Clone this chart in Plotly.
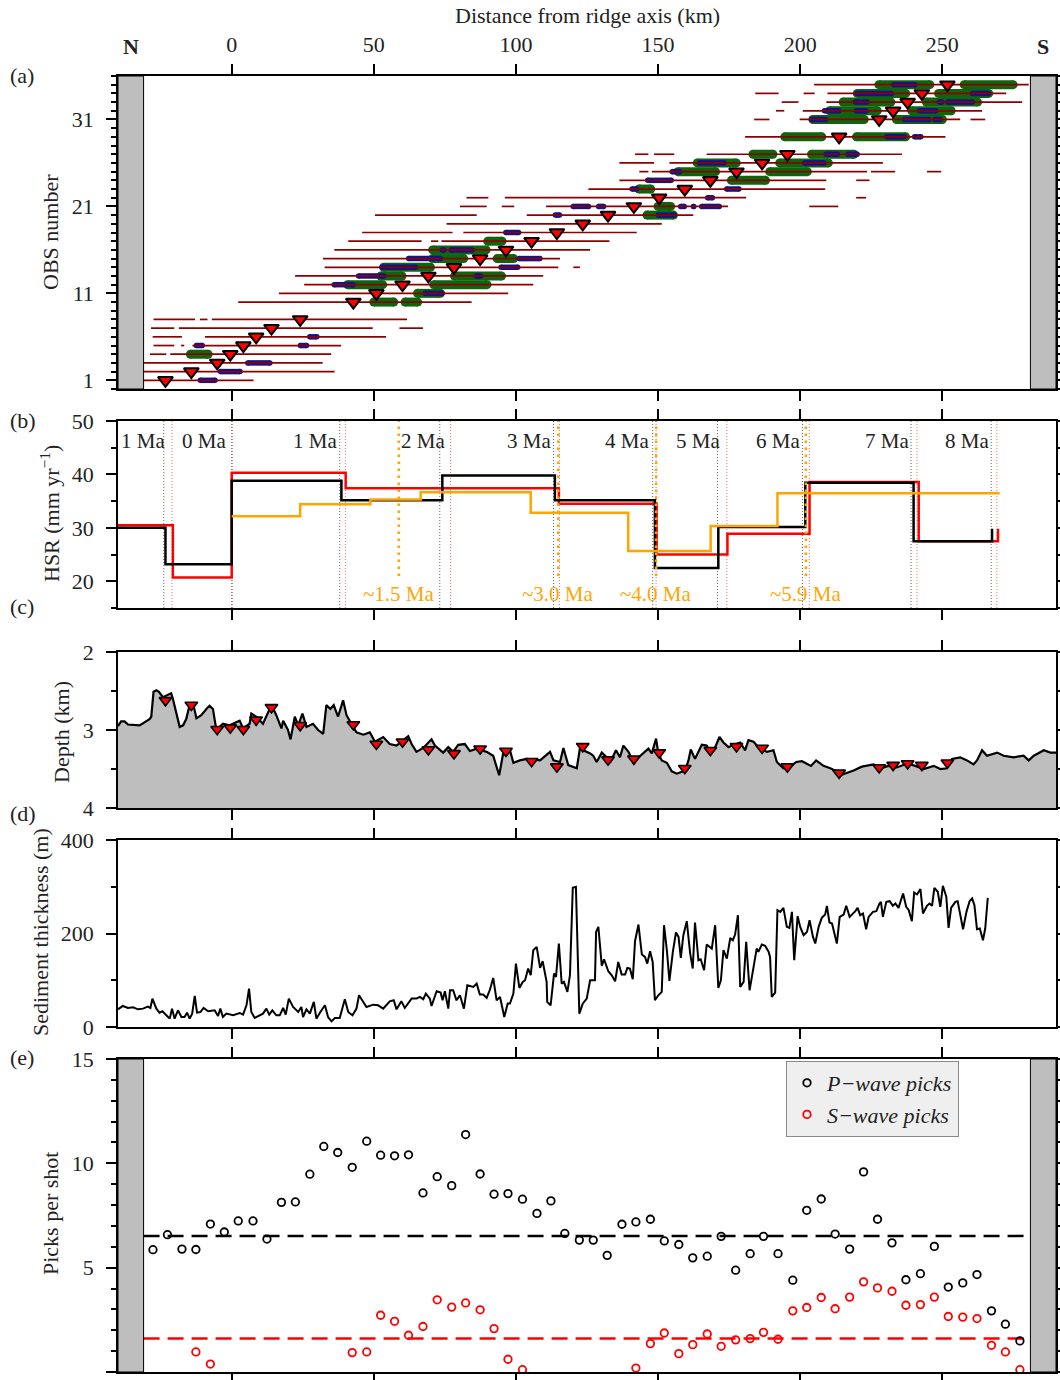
import plotly.graph_objects as go

# ---------------------------------------------------------------- data
TICK_KM = [0, 50, 100, 150, 200, 250]

# OBS positions (panel a / c)
OBS_NUM = [1, 2, 3, 4, 5, 6, 7, 8, 10, 11, 12, 13, 14, 15, 16, 17, 18, 19, 20, 21,
           22, 23, 24, 25, 26, 27, 29, 31, 32, 33, 34, 35]
OBS_KM = [-23.3, -14.2, -5.1, -0.5, 4.1, 8.6, 14.0, 24.1, 42.8, 50.9, 60.1, 69.2, 78.2,
          87.4, 96.5, 105.5, 114.4, 123.5, 132.4, 141.5, 150.4, 159.4, 168.4, 177.6,
          186.6, 195.5, 213.7, 227.8, 232.7, 237.8, 242.8, 251.8]
OBS_DEPTH = [2.62, 2.68, 2.99, 2.97, 2.99, 2.87, 2.71, 2.94, 2.93, 3.18, 3.15, 3.25, 3.30,
             3.24, 3.27, 3.40, 3.47, 3.21, 3.38, 3.37, 3.29, 3.49, 3.26, 3.21, 3.23, 3.47,
             3.55, 3.48, 3.45, 3.43, 3.45, 3.42]

# panel a: offset ranges (thin dark red)
RED_OBS = [1, 2, 3, 4, 4, 5, 5, 5, 6, 6, 7, 7, 7, 8, 8, 8, 10, 11, 12, 13, 14, 14, 15, 16,
           17, 17, 17, 18, 18, 19, 20, 20, 21, 21, 21, 21, 22, 22, 22, 23, 24, 24, 25, 25,
           25, 25, 26, 26, 27, 27, 27, 29, 31, 31, 31, 32, 32, 33, 33, 34, 34, 34, 35]
RED_START = [-31, -31, -31, -28.8, -21.6, -27.5, -17.8, -13.8, -27.8, -9.4, -28.4, -18.6,
             59.0, -27.5, -11.2, -7.0, 2.3, 16.6, 25.5, 22.3, 32.7, 120.2, 32.1, 36.1, 41.0,
             70.1, 73.8, 45.9, 81.5, 75.6, 50.4, 103.8, 80.3, 95.0, 110.6, 203.2, 82.6, 96.1,
             219.7, 125.5, 136.4, 219.7, 143.4, 147.8, 224.9, 244.6, 136.4, 154.0, 141.9,
             148.6, 167.1, 180.6, 183.8, 199.8, 259.9, 191.5, 200.9, 193.5, 209.2, 184.2,
             201.2, 209.6, 204.9]
RED_END = [7.7, 36.2, 32.0, -23.0, 35.0, -20.2, -16.7, 38.5, -17.5, 54.3, -20.2, 49.6, 67.3,
           -12.9, -8.5, 61.7, 84.4, 97.3, 106.1, 109.6, 114.9, 122.5, 115.5, 126.1, 66.8,
           72.7, 132.9, 77.7, 142.5, 151.3, 86.2, 162.4, 89.7, 99.4, 174.6, 213.4, 90.3,
           181.0, 223.2, 208.8, 209.2, 224.4, 146.6, 223.5, 233.4, 249.6, 148.6, 229.1,
           146.6, 155.7, 235.8, 251.1, 189.2, 256.3, 265.1, 194.4, 264.0, 199.4, 278.1,
           192.4, 205.1, 272.5, 280.4]

# panel a: blue bars
BLUE_OBS = [1, 2, 3, 5, 5, 6, 11, 12, 13, 13, 14, 14, 15, 15, 16, 16, 18, 20, 20, 21, 21,
            21, 21, 21, 22, 23, 23, 24, 25, 26, 26, 27, 27, 29, 29, 31, 31, 31, 32, 32, 32,
            33, 33, 33, 34, 34, 35]
BLUE_START = [-12.0, -4.9, 4.7, -13.4, 23.2, 26.5, 67.1, 35.1, 43.7, 85.2, 51.9, 93.8, 61.3,
              100.2, 73.2, 76.2, 95.5, 112.9, 149.2, 119.2, 128.1, 157.0, 161.5, 164.4,
              166.5, 139.9, 173.2, 145.4, 154.0, 163.6, 200.6, 208.2, 215.9, 229.6, 239.3,
              203.0, 235.8, 246.4, 207.6, 218.8, 241.0, 218.5, 248.0, 251.0, 219.0, 259.7,
              232.0]
BLUE_END = [-4.9, 3.9, 14.4, -9.4, 27.3, 30.9, 75.0, 43.7, 54.5, 88.5, 65.6, 101.6, 74.4,
            109.4, 75.6, 85.6, 101.9, 116.3, 156.7, 126.5, 131.8, 160.2, 163.5, 172.5, 170.1,
            143.4, 179.4, 155.6, 158.5, 174.2, 209.4, 214.1, 221.0, 237.5, 243.4, 209.9,
            246.2, 250.2, 214.6, 224.1, 248.7, 224.5, 250.8, 261.5, 233.0, 267.2, 241.3]

# panel a: green bars
GREEN_OBS = [4, 10, 10, 11, 12, 12, 13, 13, 14, 15, 15, 16, 17, 20, 21, 23, 24, 25, 25, 26,
             26, 27, 27, 29, 29, 31, 31, 32, 32, 33, 33, 34, 34, 35, 35]
GREEN_START = [-16.1, 48.4, 59.4, 63.8, 39.2, 69.5, 50.9, 76.8, 51.9, 69.1, 91.8, 69.1, 88.5,
               144.5, 148.4, 141.7, 174.2, 155.4, 187.7, 162.2, 191.2, 181.8, 202.4, 193.0,
               218.2, 202.9, 232.3, 208.8, 237.7, 213.5, 242.8, 218.5, 247.1, 226.1, 256.1]
GREEN_END = [-6.7, 58.6, 67.0, 75.0, 54.7, 91.4, 61.5, 96.5, 71.5, 83.2, 100.8, 91.1, 96.7,
             157.0, 156.0, 149.0, 189.4, 171.8, 204.1, 179.1, 211.5, 192.0, 220.5, 209.2,
             238.7, 224.1, 251.6, 228.7, 254.7, 233.5, 264.0, 238.7, 267.9, 247.2, 276.5]

# panel b: half-spreading rates (step boundaries and values)
HSR_BLACK_X = [-40, -23.3, 0, 38.6, 74.1, 113.7, 148.9, 171.2, 201.8, 239.9, 267.5]
HSR_BLACK_Y = [30.0, 23.2, 38.8, 35.15, 39.8, 35.15, 22.5, 30.15, 38.45, 27.5, 29.85]
HSR_RED_X = [-40, -20.7, 0, 40.1, 115.1, 149.5, 174.4, 203.3, 241.7, 269.6]
HSR_RED_Y = [30.5, 20.7, 40.3, 37.4, 34.5, 25.0, 28.9, 38.6, 27.5, 29.85]
HSR_ORANGE_X = [0, 24.1, 48.8, 66.5, 105.2, 139.5, 168.5, 192.0, 270.2]
HSR_ORANGE_Y = [32.15, 34.4, 35.3, 36.65, 32.85, 25.65, 30.35, 36.5, 36.5]
AGE_BLACK_X = [-23.9, 0.0, 38.0, 73.2, 113.2, 148.1, 170.9, 200.8, 239.0, 267.2]
AGE_RED_X = [-21.0, 0.3, 40.0, 77.0, 115.3, 149.3, 174.2, 203.2, 241.1, 269.2]
AGE_LABELS = ["1 Ma", "0 Ma", "1 Ma", "2 Ma", "3 Ma", "4 Ma", "5 Ma", "6 Ma", "7 Ma", "8 Ma"]
AGE_LABEL_X = [-22.8, -1.3, 37.8, 75.6, 113.0, 147.5, 172.6, 200.6, 238.9, 267.0]
ORANGE_AGE_X = [58.8, 114.9, 149.3, 202.0]
ORANGE_AGE_LABELS = ["~1.5 Ma", "~3.0 Ma", "~4.0 Ma", "~5.9 Ma"]

# panel c: bathymetry
BATHY_KM = [-40.0, -38.9, -37.7, -36.5, -32.4, -31.2, -28.9, -28.3, -27.5, -26.5,
            -25.6, -24.2, -21.3, -20.7, -19.5, -18.3, -17.1, -16.0, -14.8, -13.6,
            -12.4, -10.7, -8.9, -7.8, -6.6, -5.4, -3.1, -0.7, 1.6, 2.8,
            4.0, 6.3, 6.9, 8.7, 11.0, 12.2, 14.0, 15.7, 17.5, 18.1,
            19.8, 20.7, 22.2, 23.4, 24.9, 26.3, 28.6, 30.4, 32.2, 33.3,
            34.7, 35.9, 37.4, 39.2, 40.4, 42.1, 43.9, 46.3, 48.6, 50.4,
            53.3, 55.6, 58.0, 59.7, 62.1, 63.3, 65.0, 67.4, 70.3, 71.5,
            74.4, 76.2, 77.9, 79.7, 82.0, 83.8, 86.2, 89.7, 92.0, 94.1,
            95.5, 97.9, 99.1, 101.4, 103.8, 108.5, 112.0, 113.2, 115.5, 116.7,
            118.4, 121.4, 122.5, 126.1,
            127.2, 128.4, 130.2, 131.9, 133.1, 135.2, 136.6, 137.8, 139.6, 141.3,
            143.7, 146.6, 147.8, 149.3, 150.1, 151.3, 153.1, 154.8, 156.6, 158.3,
            159.5, 160.7, 161.5, 163.0, 164.2, 165.4, 167.1, 168.5, 170.1, 171.6,
            173.0, 174.8, 176.5, 178.9, 180.6, 181.8, 183.6, 185.3, 188.3, 190.6,
            191.8, 194.1, 196.5, 198.6, 200.6, 202.4, 203.8, 205.6, 208.2, 210.6,
            212.3, 214.1, 216.4, 218.8, 221.7, 223.5, 225.8, 228.2, 231.1, 234.0,
            237.6, 240.5, 243.4, 247.0, 249.3, 251.6, 253.4, 256.3, 258.7, 261.0,
            262.2, 264.0, 265.7, 269.3, 271.6, 275.1, 278.6, 280.4, 282.2, 285.7,
            288.0, 290.0]
BATHY_DEPTH = [2.95, 2.89, 2.89, 2.93, 2.94, 2.91, 2.86, 2.83, 2.51, 2.49,
               2.51, 2.58, 2.53, 2.60, 2.77, 2.96, 2.94, 2.86, 2.68, 2.66,
               2.85, 2.81, 2.73, 2.69, 2.73, 3.00, 2.92, 2.94, 2.90, 2.88,
               2.98, 2.92, 2.79, 2.83, 2.92, 2.83, 2.68, 2.81, 2.98, 2.88,
               3.00, 3.12, 2.83, 2.94, 2.79, 2.96, 2.92, 3.00, 3.05, 2.68,
               2.73, 2.68, 2.83, 2.62, 2.81, 2.92, 3.03, 3.06, 3.03, 3.15,
               3.09, 3.18, 3.20, 3.15, 3.08, 3.18, 3.28, 3.23, 3.12, 3.20,
               3.29, 3.22, 3.28, 3.19, 3.18, 3.27, 3.24, 3.28, 3.33, 3.58,
               3.30, 3.26, 3.42, 3.39, 3.37, 3.39, 3.28, 3.39, 3.41, 3.23,
               3.45, 3.49, 3.24, 3.30,
               3.33, 3.41, 3.29, 3.35, 3.42, 3.26, 3.35, 3.20, 3.28, 3.41,
               3.33, 3.24, 3.30, 3.11, 3.30, 3.39, 3.42, 3.53, 3.56, 3.54,
               3.52, 3.39, 3.25, 3.37, 3.28, 3.19, 3.20, 3.29, 3.22, 3.09,
               3.16, 3.22, 3.19, 3.16, 3.26, 3.13, 3.15, 3.22, 3.28, 3.26,
               3.41, 3.49, 3.47, 3.41, 3.40, 3.43, 3.46, 3.39, 3.46, 3.49,
               3.52, 3.58, 3.55, 3.52, 3.47, 3.46, 3.44, 3.49, 3.46, 3.48,
               3.43, 3.46, 3.50, 3.46, 3.50, 3.49, 3.37, 3.35, 3.39, 3.44,
               3.39, 3.26, 3.33, 3.29, 3.33, 3.35, 3.33, 3.39, 3.33, 3.26,
               3.29, 3.29]

# panel d: sediment thickness
SED_KM = [-40.0, -38.3, -36.5, -34.7, -33.0, -31.2, -29.5, -28.6, -27.9, -26.5,
          -25.4, -24.4, -23.0, -21.8, -21.0, -20.1, -18.9, -17.7, -16.6, -15.7,
          -14.8, -13.9, -13.0, -12.2, -11.0, -9.9, -8.3, -6.0, -4.8, -4.0,
          -3.1, -1.9, 0.5, 2.8, 4.0, 5.2, 6.1, 6.9, 8.1, 11.0,
          12.2, 13.2, 14.3, 15.7, 16.9, 18.1, 19.0, 20.1, 21.6, 23.4,
          24.5, 25.1, 26.3, 27.5, 28.9, 29.8, 31.2, 32.8, 33.9, 35.1,
          36.3, 38.0, 39.8, 41.0, 42.5, 43.9, 44.8, 46.3, 47.4, 49.8,
          51.5, 53.3, 55.6, 57.0, 58.0, 59.7, 60.9, 63.3, 65.0, 66.2,
          67.4, 68.3, 69.7, 70.3, 72.1, 73.5, 74.2, 75.0, 76.2, 76.8,
          77.9, 79.1, 80.3, 81.7, 82.9, 85.0, 86.2, 87.3, 88.5, 89.7,
          90.9, 92.0, 93.2, 94.4, 95.9, 97.1, 97.9, 99.1, 100.0, 101.2,
          102.4, 103.2, 104.3, 105.2, 106.1, 107.3, 108.5, 109.4, 110.8, 111.0,
          112.2, 113.4, 114.1, 115.1, 116.1, 116.9, 118.1, 119.0, 120.0, 121.1,
          122.3, 123.5, 124.9, 126.1,
          126.6, 127.8, 128.2, 129.0, 130.2, 131.0, 132.5, 133.7, 134.9, 136.0,
          137.2, 138.4, 139.2, 140.1, 141.1, 141.9, 143.1, 144.3, 145.4, 146.2,
          147.2, 148.1, 148.9, 150.1, 151.3, 152.1, 153.1, 154.0, 155.2, 156.3,
          157.2, 158.0, 158.9, 160.1, 161.3, 162.2, 163.0, 164.2, 165.0, 166.2,
          167.1, 168.9, 170.1, 171.2, 172.1, 173.0, 174.2, 175.4, 176.3, 177.1,
          178.1, 178.9, 180.1, 181.0, 182.2, 183.6, 184.7, 185.3, 186.5, 187.7,
          188.9, 189.4, 190.0, 191.2, 192.0, 193.0, 194.1, 195.3, 196.2, 197.1,
          197.9, 199.1, 200.0, 201.2, 202.4, 203.3, 204.5, 205.3, 206.5, 207.6,
          208.8, 209.4, 210.3, 211.2, 212.9, 213.9, 215.3, 216.2, 217.4, 219.4,
          220.2, 221.1, 222.1, 223.2, 224.1, 225.6, 226.8, 227.9, 228.4, 229.1,
          230.3, 231.5, 232.6, 233.5, 234.6, 236.2, 237.3, 238.2, 239.3, 240.1,
          241.1, 242.3, 243.2, 244.6, 245.5, 246.4, 247.2, 248.4, 249.3, 250.2,
          251.4, 252.2, 253.1, 254.6, 255.4, 257.3, 258.5, 259.6, 260.5, 261.3,
          262.2, 263.2, 264.3, 265.1, 266.0]
SED_THICK = [37.8, 45.0, 40.7, 42.1, 37.8, 39.3, 43.6, 40.7, 60.7, 39.3,
             30.7, 33.6, 25.0, 17.9, 39.3, 17.9, 35.7, 21.4, 21.4, 30.7,
             17.9, 28.6, 66.4, 30.7, 32.1, 40.7, 33.6, 35.7, 23.6, 39.3,
             21.4, 28.6, 25.0, 30.0, 26.4, 46.4, 82.1, 32.1, 19.3, 28.6,
             39.3, 26.4, 35.7, 25.0, 25.0, 40.7, 26.4, 60.7, 42.8, 32.1,
             42.8, 21.4, 37.8, 28.6, 53.6, 17.9, 32.1, 46.4, 21.4, 12.1,
             19.3, 19.3, 59.3, 32.1, 25.0, 39.3, 67.8, 53.6, 42.8, 47.8,
             46.4, 39.3, 55.0, 57.1, 37.8, 55.0, 40.7, 60.7, 60.7, 64.3,
             59.3, 71.4, 60.7, 45.0, 76.4, 73.5, 57.1, 76.4, 39.3, 78.5,
             78.5, 57.1, 67.8, 39.3, 89.3, 85.7, 92.8, 69.3, 69.3, 62.1,
             80.7, 105.0, 57.1, 64.3, 21.4, 50.0, 50.0, 71.4, 135.7, 83.5,
             96.4, 100.0, 125.0, 110.7, 164.2, 171.4, 126.4, 140.7, 96.4, 53.6,
             46.4, 114.2, 107.1, 178.5, 92.8, 96.4, 75.0, 110.7, 297.7, 299.9,
             28.6, 50.0, 60.7, 100.0,
             100.0, 100.0, 203.5, 214.2, 130.7, 144.9, 119.2, 110.7, 97.8, 139.2,
             112.1, 112.1, 126.4, 125.0, 102.1, 183.5, 219.2, 154.9, 149.9, 135.7,
             162.1, 139.2, 57.1, 67.8, 75.0, 217.8, 164.2, 98.5, 160.7, 202.1,
             192.8, 147.8, 196.4, 226.3, 157.1, 125.0, 223.5, 142.8, 144.9, 121.4,
             176.4, 167.8, 217.8, 83.5, 100.0, 164.2, 146.4, 190.6, 185.6, 197.8,
             239.2, 85.7, 96.4, 182.1, 78.5, 132.1, 167.8, 160.7, 176.4, 173.5,
             160.7, 149.9, 64.3, 73.5, 249.9, 246.3, 254.9, 214.2, 212.1, 246.3,
             142.8, 237.0, 214.2, 196.4, 203.5, 228.5, 192.8, 178.5, 214.2, 233.5,
             240.6, 259.2, 223.5, 221.3, 178.5, 235.6, 240.6, 259.2, 235.6, 247.8,
             254.9, 239.2, 242.8, 209.2, 235.6, 246.3, 247.8, 264.2, 267.8, 235.6,
             267.8, 269.2, 259.2, 264.2, 254.9, 285.6, 257.0, 249.9, 226.3, 287.7,
             283.5, 294.9, 242.8, 259.2, 264.2, 259.2, 297.7, 289.2, 257.0, 302.0,
             278.5, 212.1, 254.9, 267.8, 269.2, 209.2, 246.3, 269.2, 274.9, 260.6,
             209.2, 210.6, 185.6, 210.6, 276.3]

# panel e: picks per shot
P_KM = [-27.7, -22.6, -17.5, -12.6, -7.5, -2.6, 2.3, 7.5, 12.4, 17.5,
        22.4, 27.5, 32.4, 37.3, 42.4, 47.5, 52.4, 57.3, 62.2, 67.3,
        72.3, 77.4, 82.3, 87.4, 92.3, 97.2, 102.3, 107.4, 112.3, 117.2,
        122.3, 127.2, 132.1, 137.3, 142.2, 147.3, 152.2, 157.3, 162.2, 167.3,
        172.2, 177.3, 182.4, 187.1, 192.2, 197.4, 202.3, 207.4, 212.3, 217.4,
        222.3, 227.2, 232.3, 237.2, 242.3, 247.2, 252.1, 257.2, 262.2, 267.3,
        272.2, 277.3]
P_PICKS = [5.86, 6.58, 5.89, 5.87, 7.09, 6.71, 7.24, 7.24, 6.37, 8.13,
           8.15, 9.48, 10.81, 10.52, 9.81, 11.06, 10.39, 10.36, 10.41, 8.58,
           9.36, 8.93, 11.38, 9.49, 8.52, 8.55, 8.28, 7.60, 8.20, 6.64,
           6.32, 6.32, 5.59, 7.08, 7.19, 7.32, 6.28, 6.11, 5.47, 5.55,
           6.50, 4.88, 5.67, 6.50, 5.67, 4.40, 7.75, 8.29, 6.61, 5.89,
           9.59, 7.32, 6.19, 4.42, 4.71, 6.02, 4.07, 4.27, 4.67, 2.93,
           2.29, 1.49]
S_KM = [-12.6, -7.5, 42.4, 47.5, 52.4, 57.3, 62.2, 67.3, 72.3, 77.4, 82.3, 87.4, 92.3,
        97.2, 102.3, 142.2, 147.3, 152.2, 157.3, 162.2, 167.3, 172.2, 177.3, 182.4,
        187.1, 192.2, 197.4, 202.3, 207.4, 212.3, 217.4, 222.3, 227.2, 232.3, 237.2,
        242.3, 247.2, 252.1, 257.2, 262.2, 267.3, 272.2, 277.3]
S_PICKS = [0.96, 0.38, 0.93, 0.96, 2.72, 2.43, 1.76, 2.18, 3.46, 3.11, 3.31, 2.98, 2.08,
           0.61, 0.11, 0.19, 1.36, 1.87, 0.88, 1.31, 1.82, 1.23, 1.54, 1.60, 1.90, 1.57,
           2.93, 3.09, 3.57, 3.03, 3.59, 4.32, 4.03, 3.87, 3.20, 3.23, 3.59, 2.66, 2.63,
           2.56, 1.28, 0.96, 0.11]
P_MEAN = 6.52
S_MEAN = 1.60
MEAN_X = [-31, 281]

BOX_LEFT = [-40, -31]
BOX_RIGHT = [281, 290]

# ---------------------------------------------------------------- layout helpers
W, H = 1060, 1380
FONT = "Liberation Serif"
TXT = "#222222"
FS = 22
FS_MA = 21


def fx(p):
    return p / W


def fy(p):
    return 1 - p / H


X_RANGE = [-40, 290]
PL, PR = 118, 1056
X_DOM = [fx(PL), fx(PR)]
PANELS = [(76, 389), (421, 608), (652, 808), (840, 1027), (1059, 1372)]
KM_PER_PX = (X_RANGE[1] - X_RANGE[0]) / (PR - PL)


def segs(obs, starts, ends, cap_px=0.0):
    r = cap_px * KM_PER_PX
    xs, ys = [], []
    for o, s, e in zip(obs, starts, ends):
        a, b = s + r, e - r
        if a > b:
            a = b = 0.5 * (s + e)
        xs += [a, b, None]
        ys += [o, o, None]
    return xs, ys


fig = go.Figure()

# ---------------- panel a
GREEN = "#0d660d"
BLUE = "#12128e"
DRED = "#8e0000"
gx, gy = segs(GREEN_OBS, GREEN_START, GREEN_END, 4.5)
fig.add_trace(go.Scatter(x=gx, y=gy, mode="lines+markers", xaxis="x", yaxis="y",
                         line=dict(color=GREEN, width=9),
                         marker=dict(color=GREEN, size=9, line=dict(width=0)),
                         showlegend=False, hoverinfo="skip"))
bx, by = segs(BLUE_OBS, BLUE_START, BLUE_END, 2.75)
fig.add_trace(go.Scatter(x=bx, y=by, mode="lines+markers", xaxis="x", yaxis="y",
                         line=dict(color=BLUE, width=5.5),
                         marker=dict(color=BLUE, size=5.5, line=dict(width=0)),
                         showlegend=False, hoverinfo="skip"))
rx, ry = segs(RED_OBS, RED_START, RED_END)
fig.add_trace(go.Scatter(x=rx, y=ry, mode="lines", xaxis="x", yaxis="y",
                         line=dict(color=DRED, width=1.7),
                         showlegend=False, hoverinfo="skip"))
fig.add_trace(go.Scatter(x=OBS_KM, y=OBS_NUM, mode="markers", xaxis="x", yaxis="y",
                         marker=dict(symbol="triangle-down", size=13, color="#ff0000",
                                     line=dict(color="black", width=2)),
                         showlegend=False, hoverinfo="skip"))

# ---------------- panel b
fig.add_trace(go.Scatter(x=HSR_RED_X, y=HSR_RED_Y, mode="lines", line_shape="hv",
                         xaxis="x2", yaxis="y2", line=dict(color="#ff0000", width=2.5),
                         showlegend=False, hoverinfo="skip"))
fig.add_trace(go.Scatter(x=HSR_BLACK_X, y=HSR_BLACK_Y, mode="lines", line_shape="hv",
                         xaxis="x2", yaxis="y2", line=dict(color="black", width=2.5),
                         showlegend=False, hoverinfo="skip"))
fig.add_trace(go.Scatter(x=HSR_ORANGE_X, y=HSR_ORANGE_Y, mode="lines", line_shape="hv",
                         xaxis="x2", yaxis="y2", line=dict(color="#ffa500", width=2.5),
                         showlegend=False, hoverinfo="skip"))

# ---------------- panel c
fig.add_trace(go.Scatter(x=[BATHY_KM[0], BATHY_KM[-1]], y=[4, 4], mode="lines",
                         xaxis="x3", yaxis="y3", line=dict(width=0, color="#bebebe"),
                         showlegend=False, hoverinfo="skip"))
fig.add_trace(go.Scatter(x=BATHY_KM, y=BATHY_DEPTH, mode="lines", fill="tonexty",
                         fillcolor="#bebebe", xaxis="x3", yaxis="y3",
                         line=dict(color="black", width=2.2),
                         showlegend=False, hoverinfo="skip"))
fig.add_trace(go.Scatter(x=OBS_KM, y=OBS_DEPTH, mode="markers", xaxis="x3", yaxis="y3",
                         marker=dict(symbol="triangle-down", size=11, color="#ff0000",
                                     line=dict(color="black", width=1.6)),
                         showlegend=False, hoverinfo="skip"))

# ---------------- panel d
fig.add_trace(go.Scatter(x=SED_KM, y=SED_THICK, mode="lines", xaxis="x4", yaxis="y4",
                         line=dict(color="black", width=2),
                         showlegend=False, hoverinfo="skip"))

# ---------------- panel e
fig.add_trace(go.Scatter(x=MEAN_X, y=[P_MEAN, P_MEAN], mode="lines", xaxis="x5", yaxis="y5",
                         line=dict(color="black", width=2.5, dash="16px,8px"),
                         showlegend=False, hoverinfo="skip"))
fig.add_trace(go.Scatter(x=MEAN_X, y=[S_MEAN, S_MEAN], mode="lines", xaxis="x5", yaxis="y5",
                         line=dict(color="#ff0000", width=2.5, dash="16px,8px"),
                         showlegend=False, hoverinfo="skip"))
fig.add_trace(go.Scatter(x=P_KM, y=P_PICKS, mode="markers", xaxis="x5", yaxis="y5",
                         name="<i>P\u2212wave picks</i>",
                         marker=dict(symbol="circle-open", size=7.5, color="black",
                                     line=dict(width=1.8))))
fig.add_trace(go.Scatter(x=S_KM, y=S_PICKS, mode="markers", xaxis="x5", yaxis="y5",
                         name="<i>S\u2212wave picks</i>",
                         marker=dict(symbol="circle-open", size=7.5, color="#ff0000",
                                     line=dict(width=1.8))))

# ---------------------------------------------------------------- axes
tickfont = dict(family=FONT, size=FS, color=TXT)


def xax(anchor, labels=False, side="bottom"):
    return dict(domain=X_DOM, range=X_RANGE, anchor=anchor, side=side,
                showline=True, linecolor="black", linewidth=1.5, mirror="ticks",
                ticks="outside", ticklen=10, tickwidth=1.5, tickcolor="black",
                tickmode="array", tickvals=TICK_KM, showticklabels=labels,
                ticklabelstandoff=3, showgrid=False, zeroline=False,
                tickfont=tickfont, automargin=False, fixedrange=True)


def yax(anchor, idx, rng, tickvals, minor_vals):
    top, bot = PANELS[idx]
    return dict(domain=[fy(bot), fy(top)], range=rng, anchor=anchor,
                showline=True, linecolor="black", linewidth=1.5, mirror="ticks",
                ticks="outside", ticklen=10, tickwidth=1.5, tickcolor="black",
                tickmode="array", tickvals=tickvals, ticklabelstandoff=8,
                showgrid=False, zeroline=False, tickfont=tickfont, automargin=False,
                fixedrange=True,
                minor=dict(tickmode="array", tickvals=minor_vals, ticks="outside",
                           ticklen=5, tickwidth=1.5, tickcolor="black", showgrid=False))


layout = dict(
    xaxis=xax("y", labels=True, side="top"),
    xaxis2=xax("y2"), xaxis3=xax("y3"), xaxis4=xax("y4"), xaxis5=xax("y5"),
    yaxis=yax("x", 0, [0, 36], [1, 11, 21, 31], list(range(0, 37))),
    yaxis2=yax("x2", 1, [15, 50], [20, 30, 40, 50], [15, 25, 35, 45]),
    yaxis3=yax("x3", 2, [4, 2], [2, 3, 4], [2.5, 3.5]),
    yaxis4=yax("x4", 3, [0, 400], [0, 200, 400], [100, 300]),
    yaxis5=yax("x5", 4, [0, 15], [0, 5, 10, 15], list(range(0, 16))),
)

# ---------------------------------------------------------------- shapes
shapes = []
for xref, yref in (("x", "y domain"), ("x5", "y5 domain")):
    for bx0, bx1 in (BOX_LEFT, BOX_RIGHT):
        shapes.append(dict(type="rect", xref=xref, yref=yref, x0=bx0, x1=bx1, y0=0, y1=1,
                           fillcolor="#bebebe", line=dict(color="black", width=1),
                           layer="above"))
for xv in AGE_BLACK_X:
    shapes.append(dict(type="line", xref="x2", yref="y2 domain", x0=xv, x1=xv, y0=0, y1=1,
                       line=dict(color="#666666", width=1, dash="1px,2px"), layer="below"))
for xv in AGE_RED_X:
    shapes.append(dict(type="line", xref="x2", yref="y2 domain", x0=xv, x1=xv, y0=0, y1=1,
                       line=dict(color="#ff6a6a", width=1, dash="1px,2px"), layer="below"))
for xv in ORANGE_AGE_X:
    shapes.append(dict(type="line", xref="x2", yref="y2", x0=xv, x1=xv, y0=21, y1=50,
                       line=dict(color="#ffa500", width=2.6, dash="2.5px,4.5px"),
                       layer="above"))

# ---------------------------------------------------------------- annotations
ann = []


def txt(text, x, y, xref="paper", yref="paper", xanchor="center", yanchor="middle",
        color=TXT, size=FS, angle=0):
    ann.append(dict(text=text, x=x, y=y, xref=xref, yref=yref, xanchor=xanchor,
                    yanchor=yanchor, showarrow=False, textangle=angle,
                    font=dict(family=FONT, size=size, color=color)))


txt("Distance from ridge axis (km)", fx(587), fy(15))
txt("<b>N</b>", -35.5, fy(47), xref="x")
txt("<b>S</b>", 285.5, fy(47), xref="x")
for lab, yy in (("(a)", 75), ("(b)", 421), ("(c)", 606), ("(d)", 813), ("(e)", 1057)):
    txt(lab, fx(8), fy(yy), xanchor="left")
txt("OBS number", fx(50), fy(232), angle=-90)
txt("HSR (mm yr<sup>\u22121</sup>)", fx(50), fy(514), angle=-90)
txt("Depth (km)", fx(61), fy(732), angle=-90)
txt("Sediment thickness (m)", fx(40), fy(932), angle=-90)
txt("Picks per shot", fx(50), fy(1214), angle=-90)
for lab, xv in zip(AGE_LABELS, AGE_LABEL_X):
    txt(lab, xv, 46.3, xref="x2", yref="y2", xanchor="right", size=FS_MA)
for lab, xv in zip(ORANGE_AGE_LABELS, ORANGE_AGE_X):
    txt(lab, xv, 17.7, xref="x2", yref="y2", color="#ffa500", size=FS_MA)

fig.update_layout(
    width=W, height=H, autosize=False,
    margin=dict(l=0, r=0, t=0, b=0, pad=0),
    paper_bgcolor="white", plot_bgcolor="white",
    font=dict(family=FONT, size=FS, color=TXT),
    shapes=shapes, annotations=ann,
    showlegend=True,
    legend=dict(x=fx(786), y=fy(1061), xanchor="left", yanchor="top",
                bgcolor="#efefef", bordercolor="#8a8a8a", borderwidth=1,
                font=dict(family=FONT, size=FS, color=TXT), tracegroupgap=0,
                traceorder="normal", itemwidth=30),
    **layout,
)

fig.write_html(
    "out.html",
    config={"displayModeBar": False},
    post_script="document.body.style.margin='0px';document.body.style.padding='0px';"
                "document.documentElement.style.overflow='hidden';",
)
